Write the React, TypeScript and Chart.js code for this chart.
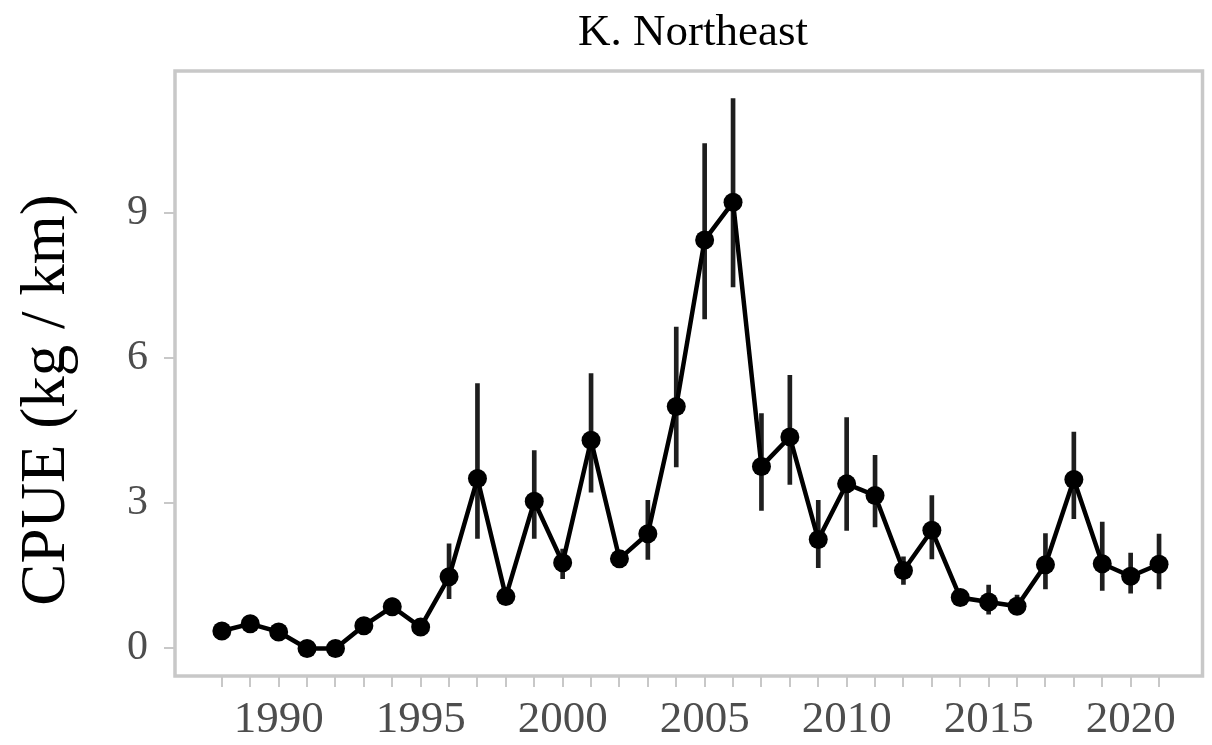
import React, { useEffect, useRef } from "react";
import { Chart, registerables } from "chart.js";

Chart.register(...registerables);

const titleText = "K. Northeast";
const yAxisLabel = "CPUE (kg / km)";

const years = [
  1988, 1989, 1990, 1991, 1992, 1993, 1994, 1995, 1996, 1997, 1998, 1999,
  2000, 2001, 2002, 2003, 2004, 2005, 2006, 2007, 2008, 2009, 2010, 2011,
  2012, 2013, 2014, 2015, 2016, 2017, 2018, 2019, 2020, 2021,
];

const cpue = [
  0.36, 0.51, 0.34, 0.0, 0.0, 0.47, 0.86, 0.44, 1.48, 3.51, 1.07, 3.04,
  1.77, 4.3, 1.85, 2.37, 5.0, 8.44, 9.22, 3.76, 4.37, 2.25, 3.4, 3.16,
  1.61, 2.44, 1.05, 0.96, 0.87, 1.73, 3.49, 1.75, 1.49, 1.74,
];

const lower = [
  0.28, 0.43, 0.27, 0.0, 0.0, 0.38, 0.68, 0.36, 1.03, 2.27, 0.98, 2.27,
  1.44, 3.23, 1.72, 1.84, 3.75, 6.81, 7.47, 2.85, 3.39, 1.67, 2.44, 2.51,
  1.32, 1.85, 0.95, 0.71, 0.7, 1.23, 2.68, 1.2, 1.14, 1.23,
];

const upper = [
  0.44, 0.59, 0.41, 0.02, 0.02, 0.56, 1.04, 0.52, 2.16, 5.47, 1.16, 4.09,
  2.05, 5.68, 1.98, 3.06, 6.64, 10.43, 11.36, 4.85, 5.64, 3.06, 4.77, 3.99,
  1.89, 3.16, 1.15, 1.31, 1.1, 2.37, 4.47, 2.61, 1.97, 2.36,
];

const yTickValues = [0, 3, 6, 9];
const xLabelEvery = 5;

const FONT = "'Liberation Serif', 'Times New Roman', serif";

export default function App() {
  const canvasRef = useRef<HTMLCanvasElement | null>(null);

  useEffect(() => {
    const canvas = canvasRef.current;
    if (!canvas) return;

    const decorPlugin = {
      id: "decor",
      afterDraw(chart: any) {
        const { ctx, chartArea } = chart;
        ctx.save();
        // panel border
        ctx.strokeStyle = "#c8c8c8";
        ctx.lineWidth = 3.5;
        ctx.strokeRect(
          chartArea.left,
          chartArea.top,
          chartArea.right - chartArea.left,
          chartArea.bottom - chartArea.top
        );
        // title
        ctx.fillStyle = "#000";
        ctx.font = `45px ${FONT}`;
        ctx.textAlign = "center";
        ctx.textBaseline = "alphabetic";
        ctx.fillText(titleText, 693, 45);
        // y axis label
        ctx.translate(47, 400);
        ctx.rotate(-Math.PI / 2);
        ctx.font = `63px ${FONT}`;
        ctx.textBaseline = "middle";
        ctx.fillText(yAxisLabel, 0, 0);
        ctx.restore();
      },
    };

    const chart = new Chart(canvas, {
      type: "bar",
      data: {
        datasets: [
          {
            type: "line",
            data: years.map((x, i) => ({ x, y: cpue[i] })),
            borderColor: "#000",
            borderWidth: 4.5,
            pointRadius: 9.5,
            pointBackgroundColor: "#000",
            pointBorderWidth: 0,
            pointBorderColor: "#000",
            tension: 0,
            order: 0,
          } as any,
          {
            type: "bar",
            data: years.map((x, i) => ({ x, y: [lower[i], upper[i]] })),
            backgroundColor: "#1e1e1e",
            borderWidth: 0,
            barThickness: 4,
            grouped: false,
            order: 1,
          } as any,
        ],
      },
      options: {
        responsive: false,
        animation: false,
        events: [],
        layout: { padding: { left: 0, right: 4, top: 71, bottom: 0 } },
        plugins: {
          legend: { display: false },
          tooltip: { enabled: false },
          title: { display: false },
        },
        scales: {
          x: {
            type: "linear",
            min: 1986.35,
            max: 2022.53,
            offset: false,
            border: { display: false },
            grid: {
              display: true,
              offset: false,
              drawOnChartArea: false,
              drawTicks: true,
              tickLength: 11,
              color: "#c8c8c8",
              lineWidth: 2,
            },
            afterBuildTicks: (scale: any) => {
              scale.ticks = years.map((v) => ({ value: v }));
            },
            afterFit: (scale: any) => {
              scale.height = 69;
              scale.paddingLeft = 0;
              scale.paddingRight = 0;
            },
            ticks: {
              autoSkip: false,
              maxRotation: 0,
              minRotation: 0,
              padding: 6,
              color: "#4d4d4d",
              font: { family: FONT, size: 45 },
              callback: (value: any) =>
                Number(value) % xLabelEvery === 0 ? String(value) : "",
            },
          },
          y: {
            type: "linear",
            min: -0.57,
            max: 11.93,
            border: { display: false },
            grid: {
              display: true,
              drawOnChartArea: false,
              drawTicks: true,
              tickLength: 11,
              color: "#c8c8c8",
              lineWidth: 2,
            },
            afterBuildTicks: (scale: any) => {
              scale.ticks = yTickValues.map((v) => ({ value: v }));
            },
            afterFit: (scale: any) => {
              scale.width = 175;
              scale.paddingTop = 0;
              scale.paddingBottom = 0;
            },
            ticks: {
              padding: 16,
              color: "#4d4d4d",
              font: { family: FONT, size: 42 },
              callback: (value: any) => String(value),
            },
          },
        },
      } as any,
      plugins: [decorPlugin],
    });

    return () => {
      chart.destroy();
    };
  }, []);

  return (
    <div style={{ position: "absolute", left: 0, top: 0, width: 1212, height: 745, background: "#fff" }}>
      <canvas ref={canvasRef} width={1212} height={745} style={{ display: "block" }} />
    </div>
  );
}
